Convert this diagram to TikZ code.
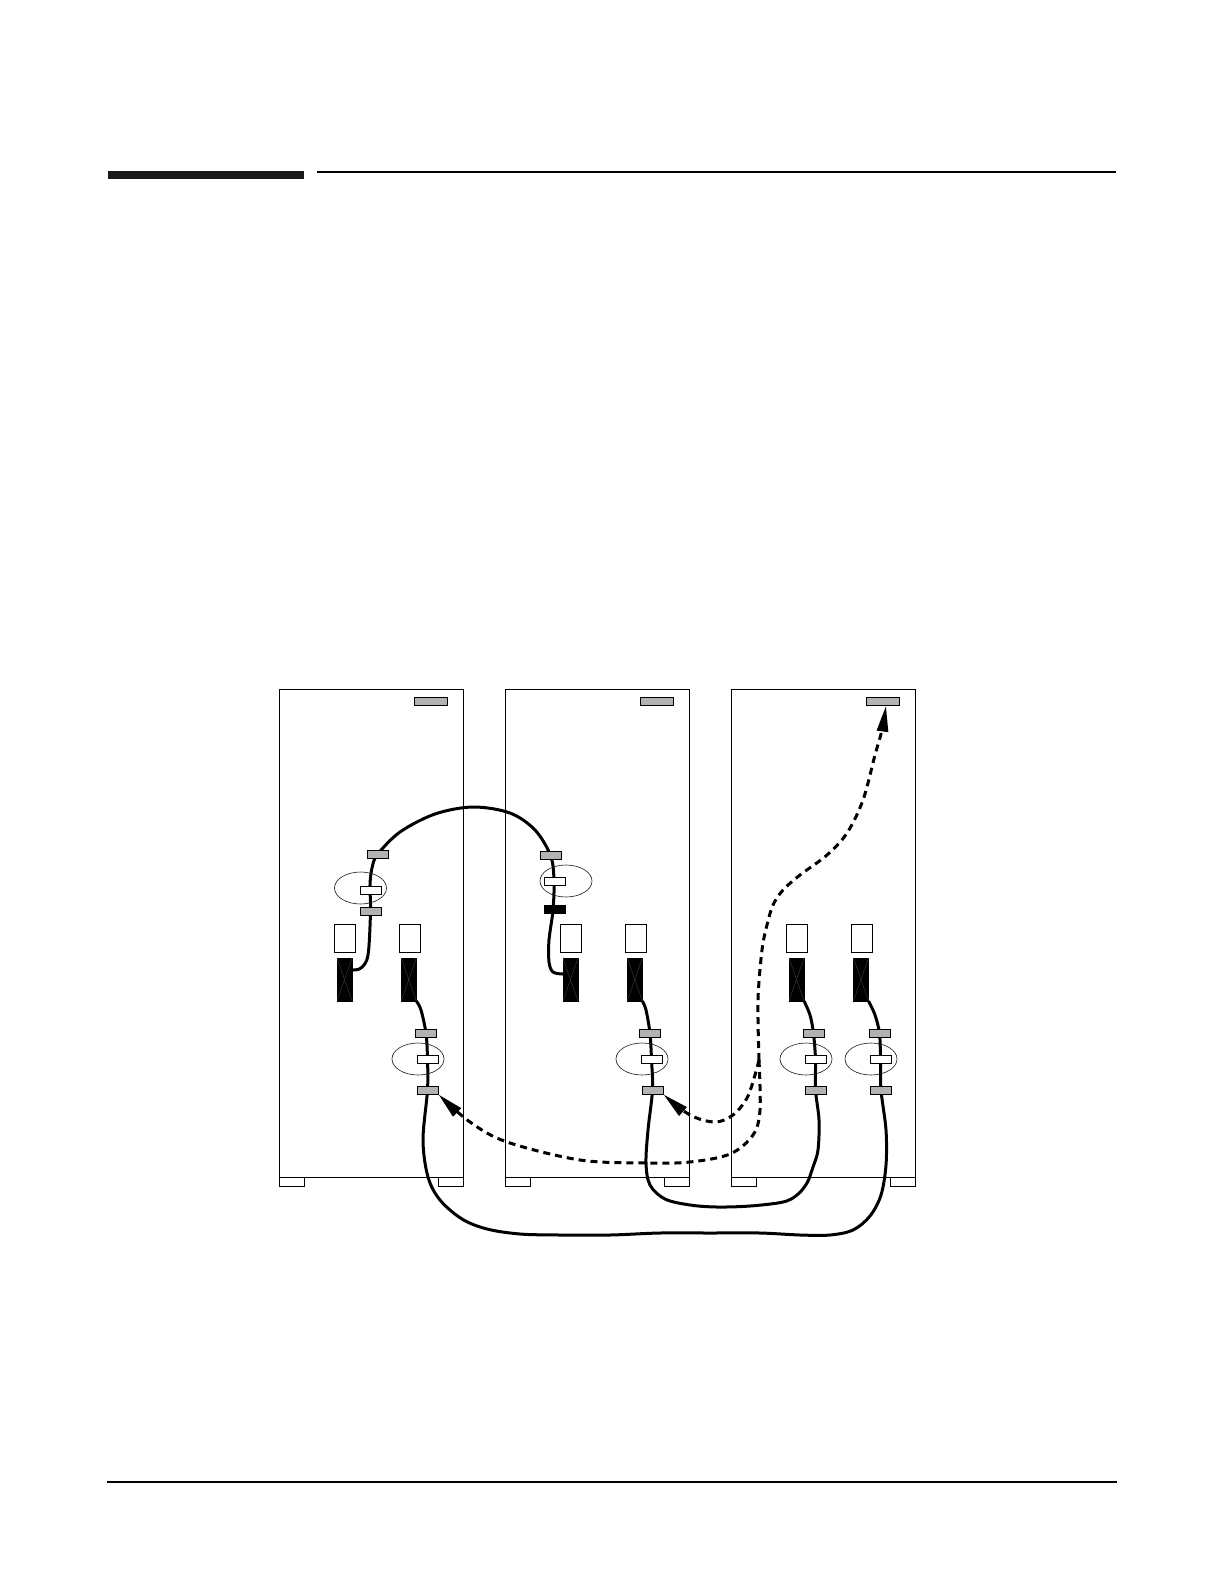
\documentclass[tikz,border=0pt]{standalone}
\usetikzlibrary{arrows.meta, positioning, backgrounds, shapes.geometric}

\begin{document}
\begin{tikzpicture}[x=1pt, y=-1pt]
    \tikzstyle{cabinet}=[draw, rectangle, minimum width=184pt, minimum height=488pt, inner sep=0pt, outer sep=0pt, line width=0.8pt]
    \tikzstyle{foot}=[draw, rectangle, minimum width=25pt, minimum height=9pt, inner sep=0pt, outer sep=0pt, line width=0.8pt]
    \tikzstyle{panel}=[draw, rectangle, minimum width=21pt, minimum height=28pt, inner sep=0pt, outer sep=0pt, fill=white, line width=0.8pt]
    \tikzstyle{slot}=[draw, rectangle, minimum width=15pt, minimum height=43pt, inner sep=0pt, outer sep=0pt, fill=black, line width=0.5pt]
    \tikzstyle{clamp}=[draw, rectangle, minimum width=21pt, minimum height=8pt, inner sep=0pt, fill=gray!60, line width=0.8pt]
    \tikzstyle{latch}=[draw, rectangle, minimum width=21pt, minimum height=8pt, inner sep=0pt, fill=white, line width=0.8pt]
    \tikzstyle{ring}=[draw=black!90, ellipse, minimum width=52pt, minimum height=32pt, inner sep=0pt, line width=0.6pt]
    \tikzstyle{topbar}=[draw, rectangle, minimum width=33pt, minimum height=8pt, inner sep=0pt, fill=gray!60, line width=0.8pt]
    \tikzstyle{cable}=[line width=3pt, line join=round]
    \tikzstyle{dashcable}=[line width=3pt, dash pattern=on 7pt off 5pt, -{Triangle[length=26pt, width=11pt]}]

    % page rules
    \node[rectangle, fill=black!90, minimum width=196pt, minimum height=8pt, inner sep=0pt] (headbar) at (206,175) {};
    \node[rectangle, fill=black, minimum width=799pt, minimum height=2pt, inner sep=0pt] (headline) at (716.5,172) {};
    \node[rectangle, fill=black, minimum width=1010pt, minimum height=2pt, inner sep=0pt] (footline) at (612,1482) {};

    % cabinets
    \node[cabinet] (cab1) at (371.25,933.25) {};
    \node[cabinet, right=41.75pt of cab1] (cab2) {};
    \node[cabinet, right=42.5pt of cab2] (cab3) {};

    \foreach \cab in {cab1, cab2, cab3} {
        \node[foot, below right=0pt and 0pt of \cab.south west] (\cab left) {};
        \node[foot, below left=0pt and 0pt of \cab.south east] (\cab right) {};
        \node[topbar] (\cab bar) at ([xshift=-32.5pt, yshift=-12pt]\cab.north east) {};
    }

    % panels and slots
    \foreach \n/\x/\s in {a/344.5/344.5, b/409.5/408.8, c/570.5/570.5, d/635.5/634.8, e/796.5/796.5, f/861.5/861} {
        \node[panel] (panel\n) at (\x,938) {};
        \node[slot, anchor=north] (slot\n) at (\s,958) {};
        \draw[black!70, line width=0.3pt] (slot\n.north west) -- (slot\n.south east);
        \draw[black!70, line width=0.3pt] (slot\n.north east) -- (slot\n.south west);
    }

    % upper clamps
    \node[clamp] (clampa) at (377.5,854.5) {};
    \node[latch] (latcha) at (370.5,890) {};
    \node[ring] (ringa) at (360.5,888) {};
    \node[clamp] (clampb) at (370.5,911.5) {};

    \node[clamp] (clampc) at (550.5,855.5) {};
    \node[latch] (latchc) at (555,881) {};
    \node[ring] (ringc) at (566,881) {};
    \node[clamp, fill=black] (clampd) at (555,909) {};

    % lower clamps
    \foreach \n/\x/\y/\z in {e/426/427.5/427.5, f/650/651.5/652.5, g/813.5/815.5/815.5, h/879.5/880.5/881} {
        \node[clamp] (up\n) at (\x,1033.5) {};
        \node[latch] (mid\n) at (\y,1059.5) {};
        \node[ring] (ring\n) at (\y-9.5,1059) {};
        \node[clamp] (low\n) at (\z,1090) {};
    }

    % cables go behind the parts
    \begin{scope}[on background layer]
        \draw[cable] plot[smooth, tension=0.55] coordinates {([yshift=9.5pt]slota.east) (361,968) (368,955) (clampb.center) (370,885) (372,868) (clampa.center) (400,832) (435,814) (473,807) (510,813) (535,830) (clampc.center) (554,880) (553,910) (549,940) (549,962) (553,972) ([yshift=5.5pt]slotc.west)};
        \draw[cable] plot[smooth, tension=0.55] coordinates {(slotb.south east) (421,1010) (upe.center) (mide.center) (lowe.center) (423,1140) (428,1177) (440,1200) (462,1219) (487,1229) (520,1234) (560,1235) (610,1235) (660,1233) (710,1233) (760,1233) (800,1235) (830,1235) (853,1230) (870,1216) (881,1195) (886,1165) (886,1130) (lowh.center) (midh.center) (uph.center) (875,1015) (slotf.south east)};
        \draw[cable] plot[smooth, tension=0.55] coordinates {(slotd.south east) (646,1010) (upf.center) (midf.center) (lowf.center) (648,1130) (646,1163) (650,1185) (665,1199) (690,1205) (717,1207) (750,1206) (783,1202) (797,1195) (807,1183) (813,1167) (818,1150) (819,1120) (lowg.center) (midg.center) (upg.center) (810,1015) (slote.south east)};
        \draw[dashcable] plot[smooth, tension=0.55] coordinates {(759,1060) (758,1000) (762,950) (767,925) (773,905) (783,890) (800,875) (827,855) (847,833) (863,800) (875,755) (882,730) ([xshift=3pt]cab3bar.south)};
        \draw[dashcable] plot[smooth, tension=0.55] coordinates {(759,1060) (760,1110) (753,1135) (730,1154) (690,1162) (647,1163) (580,1160) (507,1142) (470,1122) (lowe.south east)};
        \draw[dashcable] plot[smooth, tension=0.55] coordinates {(759,1060) (755,1075) (747,1098) (733,1115) (715,1122) (690,1115) (lowf.south east)};
    \end{scope}

    \useasboundingbox (0,0) rectangle (1222,1582);
\end{tikzpicture}
\end{document}
